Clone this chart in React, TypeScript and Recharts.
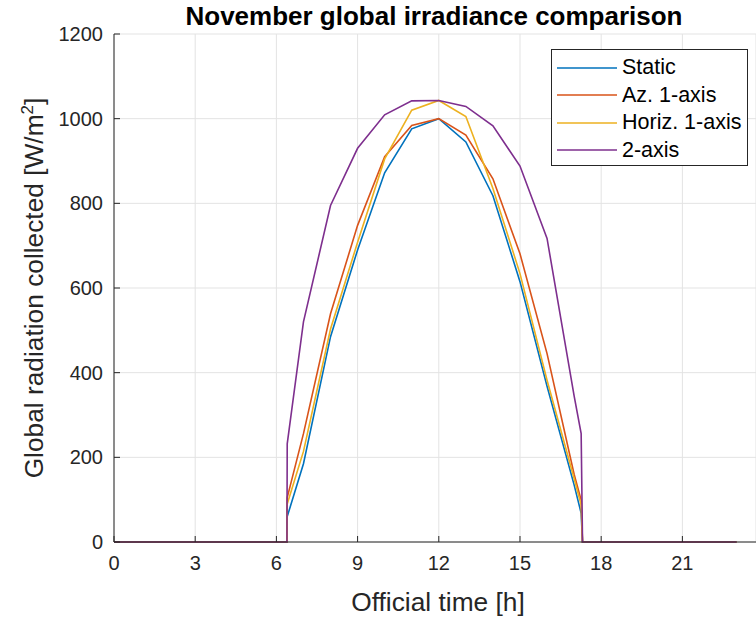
import React from 'react';
import { LineChart, Line, XAxis, YAxis, CartesianGrid } from 'recharts';

const hours = [0, 1, 2, 3, 4, 5, 6, 6.39, 6.4, 7, 8, 9, 10, 11, 12, 13, 14, 15, 16, 17, 17.26, 17.31, 18, 19, 20, 21, 22, 23];
const staticVals = [0, 0, 0, 0, 0, 0, 0, 0, 60, 185, 485, 690, 872, 976, 1000, 945, 818, 615, 368, 135, 68, 0, 0, 0, 0, 0, 0, 0];
const azVals = [0, 0, 0, 0, 0, 0, 0, 0, 105, 256, 539, 748, 910, 984, 1000, 961, 858, 681, 445, 160, 99, 0, 0, 0, 0, 0, 0, 0];
const horizVals = [0, 0, 0, 0, 0, 0, 0, 0, 90, 214, 503, 708, 905, 1020, 1043, 1005, 835, 634, 382, 150, 88, 0, 0, 0, 0, 0, 0, 0];
const twoAxisVals = [0, 0, 0, 0, 0, 0, 0, 0, 232, 520, 795, 930, 1009, 1042, 1043, 1029, 983, 888, 717, 345, 256, 0, 0, 0, 0, 0, 0, 0];

const seriesNames = ['Static', 'Az. 1-axis', 'Horiz. 1-axis', '2-axis'];
const seriesKeys = ['s', 'az', 'hz', 'two'];
const seriesColors = ['#0072BD', '#D95319', '#EDB120', '#7E2F8E'];

const xTicks = [0, 3, 6, 9, 12, 15, 18, 21];
const yTicks = [0, 200, 400, 600, 800, 1000, 1200];

const data = hours.map((h, i) => ({
  h,
  s: staticVals[i],
  az: azVals[i],
  hz: horizVals[i],
  two: twoAxisVals[i],
}));

const FONT = "'Liberation Sans', Arial, Helvetica, sans-serif";
const AX = '#262626';

const XTick = (props: any) => {
  const { x, y, payload } = props;
  return (
    <g>
      <line x1={x} x2={x} y1={y} y2={y - 6} stroke={AX} strokeWidth={1} />
      <text x={x} y={y + 28} textAnchor="middle" fontSize={20} fill={AX} fontFamily={FONT}>
        {payload.value}
      </text>
    </g>
  );
};

const TopTick = (props: any) => {
  const { x, y } = props;
  return <line x1={x} x2={x} y1={y} y2={y + 6} stroke={AX} strokeWidth={1} />;
};

const YTick = (props: any) => {
  const { x, y, payload } = props;
  return (
    <g>
      <line x1={x} x2={x + 6} y1={y} y2={y} stroke={AX} strokeWidth={1} />
      <text x={x - 11} y={y + 7} textAnchor="end" fontSize={20} fill={AX} fontFamily={FONT}>
        {payload.value}
      </text>
    </g>
  );
};

const LegendBox = () => (
  <div
    style={{
      position: 'absolute',
      left: 551,
      top: 49,
      width: 197,
      height: 117,
      boxSizing: 'border-box',
      border: '1px solid #262626',
      background: '#fff',
      paddingTop: 4,
      fontFamily: FONT,
    }}
  >
    {seriesNames.map((n, i) => (
      <div key={n} style={{ height: 27.5, display: 'flex', alignItems: 'center' }}>
        <svg width={70} height={10} style={{ display: 'block' }}>
          <line x1={5} x2={65} y1={5} y2={5} stroke={seriesColors[i]} strokeWidth={1.6} />
        </svg>
        <span style={{ fontSize: 21.5, color: '#000', lineHeight: '27.5px', whiteSpace: 'nowrap' }}>{n}</span>
      </div>
    ))}
  </div>
);

export default function App() {
  return (
    <div style={{ position: 'absolute', left: 0, top: 0, width: 756, height: 623, background: '#fff' }}>
      <LineChart width={756} height={623} data={data} margin={{ top: 34, right: 0, bottom: 0, left: 0 }}>
        <CartesianGrid stroke="#e3e3e3" strokeWidth={1} />
        <XAxis
          dataKey="h"
          type="number"
          domain={[0, 23.72]}
          ticks={xTicks}
          interval={0}
          allowDataOverflow
          height={81}
          tickSize={0}
          tickMargin={0}
          tickLine={false}
          axisLine={{ stroke: AX, strokeWidth: 1 }}
          tick={<XTick />}
        />
        <XAxis
          xAxisId="top"
          orientation="top"
          dataKey="h"
          type="number"
          domain={[0, 23.72]}
          ticks={xTicks}
          interval={0}
          allowDataOverflow
          height={0}
          tickSize={0}
          tickMargin={0}
          tickLine={false}
          axisLine={{ stroke: AX, strokeWidth: 1 }}
          tick={<TopTick />}
        />
        <YAxis
          type="number"
          domain={[0, 1200]}
          ticks={yTicks}
          interval={0}
          width={114}
          tickSize={0}
          tickMargin={0}
          tickLine={false}
          axisLine={{ stroke: AX, strokeWidth: 1 }}
          tick={<YTick />}
        />
        {seriesKeys.map((k, i) => (
          <Line
            key={k}
            dataKey={k}
            name={seriesNames[i]}
            stroke={seriesColors[i]}
            strokeWidth={1.6}
            dot={false}
            activeDot={false}
            type="linear"
            isAnimationActive={false}
          />
        ))}
      </LineChart>
      <svg
        width={756}
        height={623}
        style={{ position: 'absolute', left: 0, top: 0, pointerEvents: 'none' }}
      >
        <text x={434} y={25} textAnchor="middle" fontSize={26} fontWeight="bold" fill="#000" fontFamily={FONT}>
          November global irradiance comparison
        </text>
        <text x={438} y={611} textAnchor="middle" fontSize={26.3} fill={AX} fontFamily={FONT}>
          Official time [h]
        </text>
        <text
          transform="translate(43,288) rotate(-90)"
          textAnchor="middle"
          fontSize={26.3}
          fill={AX}
          fontFamily={FONT}
        >
          Global radiation collected [W/m
          <tspan dy={-10} fontSize={17}>2</tspan>
          <tspan dy={10}>]</tspan>
        </text>
      </svg>
      <LegendBox />
    </div>
  );
}
